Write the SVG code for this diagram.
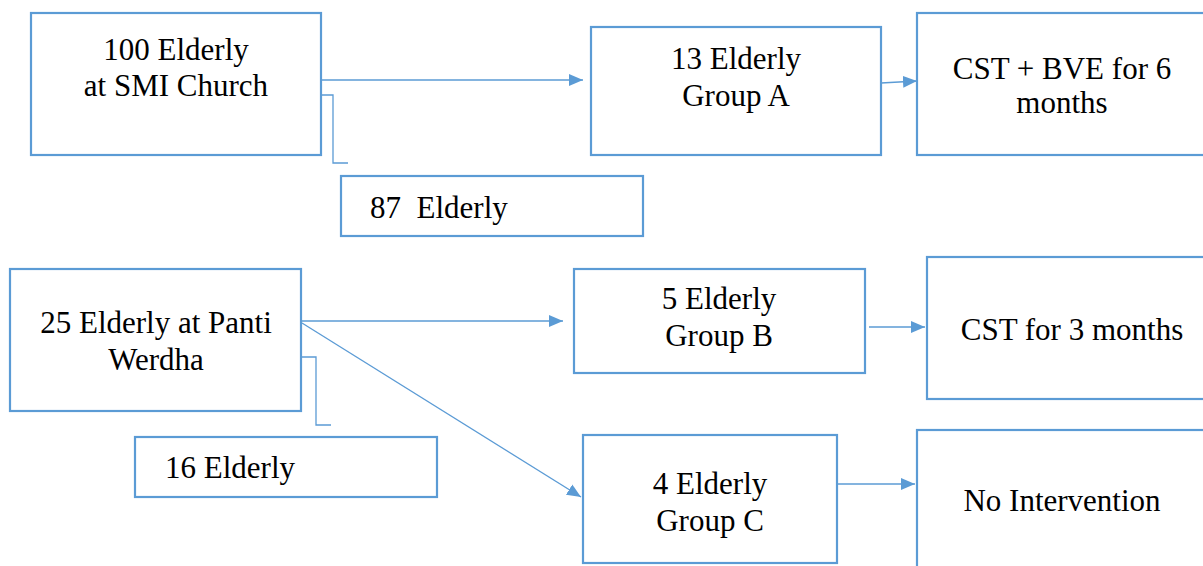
<svg xmlns="http://www.w3.org/2000/svg" width="1203" height="566" viewBox="0 0 1203 566">
<defs>
<marker id="ah" markerUnits="userSpaceOnUse" markerWidth="14" markerHeight="14" viewBox="0 0 14 14" refX="14" refY="7" orient="auto">
<path d="M0,1 L14,7 L0,13 Z" fill="#5B9BD5"/>
</marker>
</defs>
<style>
.box{fill:#fff;stroke:#5B9BD5;stroke-width:2.2}
.ln{fill:none;stroke:#5B9BD5;stroke-width:1.3}
</style>
<rect width="1203" height="566" fill="#fff"/>
<g id="connectors">
<line class="ln" x1="321" y1="80" x2="583" y2="80" marker-end="url(#ah)"/>
<polyline class="ln" points="319,95 333,95 333,163 348,163"/>
<line class="ln" x1="881" y1="83" x2="917" y2="81" marker-end="url(#ah)"/>
<line class="ln" x1="302" y1="321" x2="563" y2="321" marker-end="url(#ah)"/>
<line class="ln" x1="302" y1="323" x2="581" y2="497" marker-end="url(#ah)"/>
<polyline class="ln" points="301,357 316,357 316,425 331,425"/>
<line class="ln" x1="869" y1="327" x2="925" y2="327" marker-end="url(#ah)"/>
<line class="ln" x1="838" y1="484" x2="915" y2="484" marker-end="url(#ah)"/>
</g>
<g id="smi">
<rect class="box" x="31" y="13" width="290" height="142"/>
<text x="176" y="60" font-family="Times New Roman, serif" font-size="31" text-anchor="middle">100 Elderly</text>
<text x="176" y="96" font-family="Times New Roman, serif" font-size="31" text-anchor="middle">at SMI Church</text>
</g>
<g id="excluded87">
<rect class="box" x="341" y="176" width="302" height="60"/>
<text x="370" y="218" font-family="Times New Roman, serif" font-size="31" xml:space="preserve">87  Elderly</text>
</g>
<g id="groupA">
<rect class="box" x="591" y="27" width="290" height="128"/>
<text x="736" y="69" font-family="Times New Roman, serif" font-size="31" text-anchor="middle">13 Elderly</text>
<text x="736" y="106" font-family="Times New Roman, serif" font-size="31" text-anchor="middle">Group A</text>
</g>
<g id="cstbve">
<rect class="box" x="917" y="13" width="290" height="142"/>
<text x="1062" y="79" font-family="Times New Roman, serif" font-size="31" text-anchor="middle">CST + BVE for 6</text>
<text x="1062" y="113" font-family="Times New Roman, serif" font-size="31" text-anchor="middle">months</text>
</g>
<g id="panti">
<rect class="box" x="10" y="269" width="291" height="142"/>
<text x="156" y="333" font-family="Times New Roman, serif" font-size="31" text-anchor="middle">25 Elderly at Panti</text>
<text x="156" y="370" font-family="Times New Roman, serif" font-size="31" text-anchor="middle">Werdha</text>
</g>
<g id="excluded16">
<rect class="box" x="135" y="437" width="302" height="60"/>
<text x="165" y="478" font-family="Times New Roman, serif" font-size="31">16 Elderly</text>
</g>
<g id="groupB">
<rect class="box" x="574" y="269" width="291" height="104"/>
<text x="719" y="309" font-family="Times New Roman, serif" font-size="31" text-anchor="middle">5 Elderly</text>
<text x="719" y="346" font-family="Times New Roman, serif" font-size="31" text-anchor="middle">Group B</text>
</g>
<g id="cst3">
<rect class="box" x="927" y="257" width="280" height="142"/>
<text x="1072" y="340" font-family="Times New Roman, serif" font-size="31" text-anchor="middle">CST for 3 months</text>
</g>
<g id="groupC">
<rect class="box" x="583" y="435" width="254" height="128"/>
<text x="710" y="494" font-family="Times New Roman, serif" font-size="31" text-anchor="middle">4 Elderly</text>
<text x="710" y="531" font-family="Times New Roman, serif" font-size="31" text-anchor="middle">Group C</text>
</g>
<g id="nointervention">
<rect class="box" x="917" y="430" width="290" height="142"/>
<text x="1062" y="511" font-family="Times New Roman, serif" font-size="31" text-anchor="middle">No Intervention</text>
</g>
</svg>
